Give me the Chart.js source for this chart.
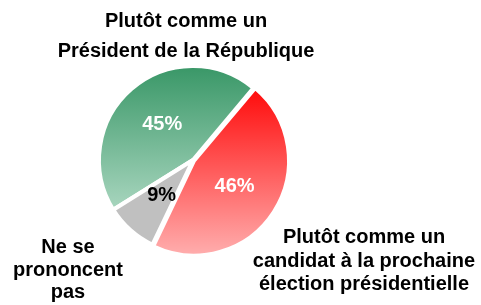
<!DOCTYPE html>
<html>
<head>
<meta charset="utf-8">
<script src="https://cdn.jsdelivr.net/npm/chart.js@4.4.0/dist/chart.umd.min.js"></script>
<style>
  html, body { margin: 0; padding: 0; background: #fff; }
  #wrap { width: 481px; height: 305px; }
</style>
</head>
<body>
<div id="wrap"><canvas id="myChart" width="481" height="305"></canvas></div>
<script>
// data
const categories = [
  ['Plutôt comme un', 'Président de la République'],
  ['Plutôt comme un', 'candidat à la prochaine', 'élection présidentielle'],
  ['Ne se', 'prononcent', 'pas']
];
const values = [45, 46, 9];
const valueColors = ['#ffffff', '#ffffff', '#000000'];
const explode = [0, 5, 0];

// where each category label sits, relative to the pie centre (dx, first baseline dy, line step)
const labelPos = [
  [-7, -133, 30],
  [171, 83, 23.5],
  [-125, 93, 22.5]
];

const ctx = document.getElementById('myChart').getContext('2d');
Chart.defaults.font.family = '"Liberation Sans", Arial, Helvetica, sans-serif';

function sliceFill(context) {
  const chart = context.chart;
  const area = chart.chartArea;
  if (!area) return '#ccc';
  const cy = (area.top + area.bottom) / 2;
  const r = 94;
  const g = chart.ctx.createLinearGradient(0, cy - r, 0, cy + r);
  if (context.dataIndex === 0) {
    g.addColorStop(0, '#399767');
    g.addColorStop(0.77, '#a9d6bf');
    g.addColorStop(1, '#bfe1d0');
  } else if (context.dataIndex === 1) {
    g.addColorStop(0, '#ff0000');
    g.addColorStop(0.17, '#ff1515');
    g.addColorStop(1, '#ffadad');
  } else {
    return '#c0c0c0';
  }
  return g;
}

const textPlugin = {
  id: 'texts',
  afterDatasetsDraw(chart) {
    const c = chart.ctx;
    const meta = chart.getDatasetMeta(0);
    const arc0 = meta.data[0];
    const cx = arc0.x, cy = arc0.y;
    c.save();
    c.textAlign = 'center';
    // percentages
    c.textBaseline = 'middle';
    c.font = 'bold 20px "Liberation Sans", Arial, sans-serif';
    meta.data.forEach((arc, i) => {
      const p = arc.getCenterPoint();
      c.fillStyle = valueColors[i];
      c.fillText(values[i] + '%', p.x, p.y);
    });
    // category labels
    c.textBaseline = 'alphabetic';
    c.font = 'bold 20px "Liberation Sans", Arial, sans-serif';
    c.fillStyle = '#000';
    categories.forEach((lines, i) => {
      const [dx, dy, step] = labelPos[i];
      lines.forEach((t, j) => {
        c.fillText(t, cx + dx, cy + dy + j * step);
      });
    });
    c.restore();
  }
};

const myChart = new Chart(ctx, {
  type: 'pie',
  data: {
    labels: categories.map(l => l.join(' ')),
    datasets: [{
      data: values,
      backgroundColor: sliceFill,
      borderColor: '#ffffff',
      borderWidth: 4,
      offset: explode,
      radius: 94
    }]
  },
  options: {
    responsive: false,
    animation: false,
    rotation: 238,
    layout: { padding: { left: 0, right: 95, top: 15, bottom: 0 } },
    plugins: {
      legend: { display: false },
      tooltip: { enabled: false }
    }
  },
  plugins: [textPlugin]
});
</script>
</body>
</html>
